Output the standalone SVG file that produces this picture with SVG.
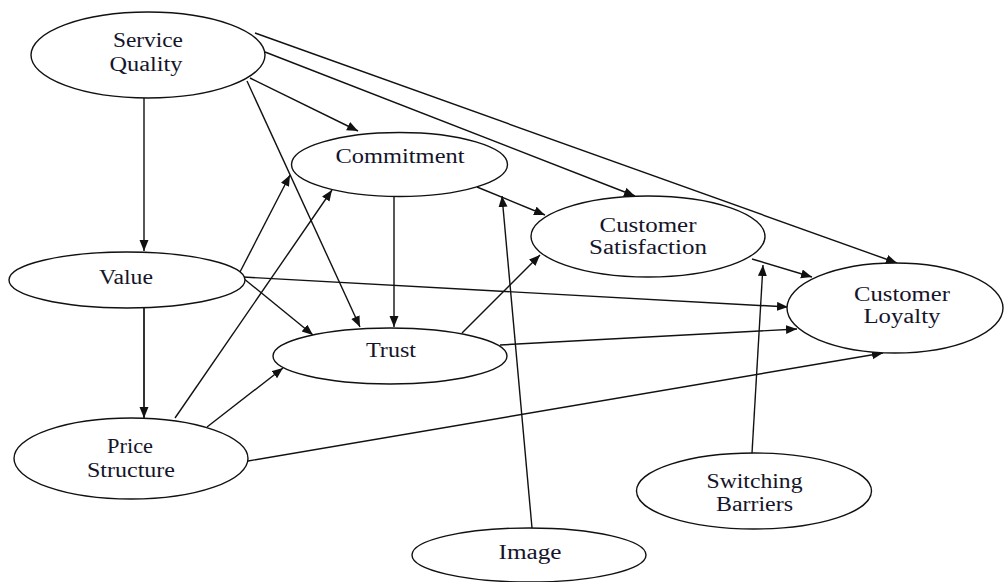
<svg xmlns="http://www.w3.org/2000/svg" width="1006" height="582" viewBox="0 0 1006 582">
<style>
.node ellipse{fill:#fff;stroke:#111;stroke-width:1.4}
.node text{font-family:"Liberation Serif","Times New Roman",serif;font-size:20px;fill:#14142a;text-anchor:middle}
#connectors line{stroke:#111;stroke-width:1.4;marker-end:url(#arr)}
</style>
<defs>
<marker id="arr" markerUnits="userSpaceOnUse" markerWidth="12" markerHeight="10" refX="11" refY="4.5" orient="auto">
<path d="M0,0 L11,4.5 L0,9 z" fill="#111"/>
</marker>
</defs>
<rect width="1006" height="582" fill="#fff"/>
<g id="connectors">
<line x1="144" y1="98" x2="144" y2="251"/>
<line x1="144" y1="308" x2="144" y2="418" style="stroke:#333;stroke-width:2"/>
<line x1="250" y1="78" x2="358" y2="131"/>
<line x1="247" y1="81" x2="360" y2="327"/>
<line x1="265" y1="52" x2="635" y2="196"/>
<line x1="255" y1="33" x2="897" y2="263"/>
<line x1="477" y1="187" x2="545" y2="215"/>
<line x1="394" y1="197" x2="394" y2="327"/>
<line x1="532" y1="528" x2="502" y2="196"/>
<line x1="243" y1="278" x2="313" y2="335"/>
<line x1="243" y1="277" x2="788" y2="307"/>
<line x1="240" y1="272" x2="290" y2="175"/>
<line x1="175" y1="418" x2="332" y2="190"/>
<line x1="207" y1="427" x2="283" y2="368"/>
<line x1="248" y1="461" x2="883" y2="353"/>
<line x1="462" y1="333" x2="540" y2="255"/>
<line x1="500" y1="345" x2="797" y2="329"/>
<line x1="752" y1="259" x2="812" y2="277"/>
<line x1="752" y1="453" x2="763" y2="265"/>
</g>
<g id="service-quality" class="node">
<ellipse cx="148" cy="55" rx="117" ry="43"/>
<text x="148" y="47" textLength="70" lengthAdjust="spacingAndGlyphs">Service</text>
<text x="146" y="71" textLength="73" lengthAdjust="spacingAndGlyphs">Quality</text>
</g>
<g id="commitment" class="node">
<ellipse cx="399.5" cy="164.5" rx="108" ry="32"/>
<text x="400" y="163" textLength="129" lengthAdjust="spacingAndGlyphs">Commitment</text>
</g>
<g id="customer-satisfaction" class="node">
<ellipse cx="648" cy="236.5" rx="117" ry="40.5"/>
<text x="648" y="232" textLength="97" lengthAdjust="spacingAndGlyphs">Customer</text>
<text x="648" y="254" textLength="118" lengthAdjust="spacingAndGlyphs">Satisfaction</text>
</g>
<g id="customer-loyalty" class="node">
<ellipse cx="895" cy="308" rx="108" ry="45"/>
<text x="902" y="301" textLength="96" lengthAdjust="spacingAndGlyphs">Customer</text>
<text x="902" y="323" textLength="77" lengthAdjust="spacingAndGlyphs">Loyalty</text>
</g>
<g id="value" class="node">
<ellipse cx="127" cy="280" rx="118" ry="28"/>
<text x="126" y="284" textLength="54" lengthAdjust="spacingAndGlyphs">Value</text>
</g>
<g id="price-structure" class="node">
<ellipse cx="131" cy="458.5" rx="117" ry="40.5"/>
<text x="130" y="453" textLength="46" lengthAdjust="spacingAndGlyphs">Price</text>
<text x="131" y="477" textLength="88" lengthAdjust="spacingAndGlyphs">Structure</text>
</g>
<g id="trust" class="node">
<ellipse cx="390" cy="356" rx="117" ry="28"/>
<text x="391" y="357" textLength="50" lengthAdjust="spacingAndGlyphs">Trust</text>
</g>
<g id="image" class="node">
<ellipse cx="529" cy="555" rx="117" ry="27"/>
<text x="530" y="559" textLength="63" lengthAdjust="spacingAndGlyphs">Image</text>
</g>
<g id="switching-barriers" class="node">
<ellipse cx="754" cy="491" rx="117.5" ry="38"/>
<text x="754.5" y="488" textLength="96" lengthAdjust="spacingAndGlyphs">Switching</text>
<text x="754.5" y="511" textLength="77" lengthAdjust="spacingAndGlyphs">Barriers</text>
</g>
</svg>
